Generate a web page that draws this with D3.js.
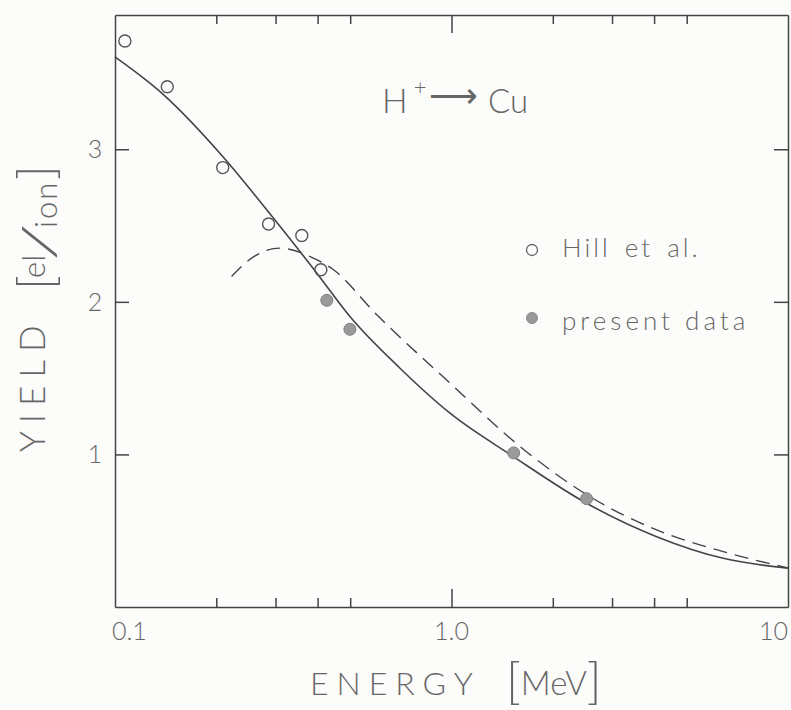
<!DOCTYPE html>
<html>
<head>
<meta charset="utf-8">
<script src="https://cdn.jsdelivr.net/npm/d3@7"></script>
<style>
  body { margin: 0; background: #fcfcfb; }
  svg { display: block; }
  text { font-family: Lato, "DejaVu Sans", sans-serif; font-weight: 300; fill: #666; }
</style>
</head>
<body>
<svg id="chart" width="791" height="710"></svg>
<script>
// Hill et al. (open circles)
const hillEnergy = [0.107, 0.143, 0.209, 0.286, 0.359, 0.409];
const hillYield = [3.71, 3.41, 2.88, 2.51, 2.435, 2.21];

// present data (filled circles)
const presentEnergy = [0.426, 0.499, 1.53, 2.52];
const presentYield = [2.01, 1.82, 1.01, 0.71];

// solid theory curve
const solidEnergy = [0.1, 0.139, 0.209, 0.2955, 0.398, 0.499, 0.703, 0.99, 1.527, 2.52, 4.07, 6.42, 10];
const solidYield = [3.605, 3.36, 2.953, 2.549, 2.188, 1.904, 1.565, 1.27, 0.986, 0.68, 0.461, 0.319, 0.254];

// dashed curve
const dashedEnergy = [0.222, 0.26, 0.309, 0.38, 0.446, 0.6, 0.99, 1.6, 2.58, 4.07, 6.42, 10];
const dashedYield = [2.166, 2.30, 2.352, 2.297, 2.21, 1.915, 1.467, 1.051, 0.723, 0.505, 0.363, 0.256];

const xMinorTicks = [0.2, 0.3, 0.4, 0.5, 2, 3, 4, 5];
const xMajorTicks = [1];
const xTickLabels = [["0.1", 0.1], ["1.0", 1], ["10", 10]];
const yTicks = [1, 2, 3];

const svg = d3.select("#chart");
const mLeft = 115, mRight = 788, mTop = 15, mBottom = 607;

const x = d3.scaleLog().domain([0.1, 10]).range([mLeft, mRight]);
const y = d3.scaleLinear().domain([0, 3.88]).range([mBottom, mTop]);

const ink = "#444";

// axes (ticks point inward)
const axes = svg.append("g").attr("class", "axes");
axes.append("g").attr("transform", `translate(0,${mBottom})`)
    .call(d3.axisBottom(x).tickValues(xMinorTicks).tickSize(-9).tickSizeOuter(0).tickFormat(""));
axes.append("g").attr("transform", `translate(0,${mBottom})`)
    .call(d3.axisBottom(x).tickValues(xMajorTicks).tickSize(-18).tickSizeOuter(0).tickFormat(""))
    .call(g => g.select(".domain").remove());
axes.append("g").attr("transform", `translate(0,${mTop})`)
    .call(d3.axisTop(x).tickValues(xMinorTicks).tickSize(-9).tickSizeOuter(0).tickFormat(""));
axes.append("g").attr("transform", `translate(0,${mTop})`)
    .call(d3.axisTop(x).tickValues(xMajorTicks).tickSize(-18).tickSizeOuter(0).tickFormat(""))
    .call(g => g.select(".domain").remove());
axes.append("g").attr("transform", `translate(${mLeft},0)`)
    .call(d3.axisLeft(y).tickValues(yTicks).tickSize(-14).tickSizeOuter(0).tickFormat(""));
axes.append("g").attr("transform", `translate(${mRight},0)`)
    .call(d3.axisRight(y).tickValues(yTicks).tickSize(-14).tickSizeOuter(0).tickFormat(""));
axes.selectAll("path, line").attr("stroke", ink).attr("stroke-width", 1.5);

// tick labels
svg.append("g")
  .selectAll("text")
  .data(xTickLabels)
  .join("text")
    .attr("x", (d, i) => x(d[1]) + (i === 0 ? -3 : 0))
    .attr("y", 640)
    .attr("text-anchor", (d, i) => i === 0 ? "start" : i === xTickLabels.length - 1 ? "end" : "middle")
    .attr("font-size", 25)
    .text(d => d[0]);

svg.append("g")
  .selectAll("text")
  .data(yTicks)
  .join("text")
    .attr("x", 95)
    .attr("y", d => y(d) + 9)
    .attr("text-anchor", "middle")
    .attr("font-size", 25)
    .text(d => d);

// y title
const yt = svg.append("g").attr("transform", "translate(45,452) rotate(-90)");
yt.append("text").attr("x", 0).attr("y", 0).attr("font-size", 35)
    .attr("letter-spacing", 8).text("YIELD");
yt.append("text").attr("x", 162).attr("y", 8).attr("font-size", 50).text("[");
yt.append("text").attr("x", 174).attr("y", 0).attr("font-size", 31).text("el");
yt.append("text").attr("transform", "translate(191,10) scale(1.9,1)")
    .attr("font-size", 46).text("/");
yt.append("text").attr("x", 224).attr("y", 12).attr("font-size", 31)
    .attr("letter-spacing", 2).text("ion");
yt.append("text").attr("x", 272).attr("y", 8).attr("font-size", 50).text("]");

// x title
svg.append("text").attr("x", 310).attr("y", 695).attr("font-size", 32)
    .attr("letter-spacing", 8).text("ENERGY");
const mev = svg.append("text").attr("x", 506).attr("y", 698);
mev.append("tspan").attr("font-size", 50).text("[");
mev.append("tspan").attr("font-size", 33).attr("dy", -3).text("MeV");
mev.append("tspan").attr("font-size", 50).attr("dy", 3).text("]");

// reaction label
const react = svg.append("text").attr("x", 382).attr("y", 113).attr("font-size", 34);
react.append("tspan").text("H");
react.append("tspan").attr("font-size", 22).attr("dx", 6).attr("dy", -18).text("+");
react.append("tspan").attr("dx", 3).attr("dy", 12).text("⟶");
svg.append("text").attr("x", 488).attr("y", 113).attr("font-size", 33).text("Cu");

// curves
const line = d3.line().x(d => x(d[0])).y(d => y(d[1])).curve(d3.curveMonotoneX);

svg.append("path")
    .datum(d3.zip(solidEnergy, solidYield))
    .attr("d", line)
    .attr("fill", "none")
    .attr("stroke", ink)
    .attr("stroke-width", 1.6);

svg.append("path")
    .datum(d3.zip(dashedEnergy, dashedYield))
    .attr("d", line)
    .attr("fill", "none")
    .attr("stroke", ink)
    .attr("stroke-width", 1.4)
    .attr("stroke-dasharray", "14,8");

// data points
svg.append("g")
  .selectAll("circle")
  .data(d3.zip(hillEnergy, hillYield))
  .join("circle")
    .attr("cx", d => x(d[0]))
    .attr("cy", d => y(d[1]))
    .attr("r", 6)
    .attr("fill", "none")
    .attr("stroke", "#555")
    .attr("stroke-width", 1.4);

svg.append("g")
  .selectAll("circle")
  .data(d3.zip(presentEnergy, presentYield))
  .join("circle")
    .attr("cx", d => x(d[0]))
    .attr("cy", d => y(d[1]))
    .attr("r", 6)
    .attr("fill", "#9a9a9a")
    .attr("stroke", "#808080")
    .attr("stroke-width", 1);

// legend
const legend = svg.append("g");
legend.append("circle").attr("cx", 532).attr("cy", 250).attr("r", 5.5)
    .attr("fill", "none").attr("stroke", "#666").attr("stroke-width", 1.3);
legend.append("text").attr("x", 562).attr("y", 257).attr("font-size", 26)
    .attr("letter-spacing", 3).attr("word-spacing", 4).text("Hill et al.");
legend.append("circle").attr("cx", 532).attr("cy", 318).attr("r", 5.5)
    .attr("fill", "#9a9a9a").attr("stroke", "#888");
legend.append("text").attr("x", 562).attr("y", 330).attr("font-size", 26)
    .attr("letter-spacing", 4).text("present data");
</script>
</body>
</html>
